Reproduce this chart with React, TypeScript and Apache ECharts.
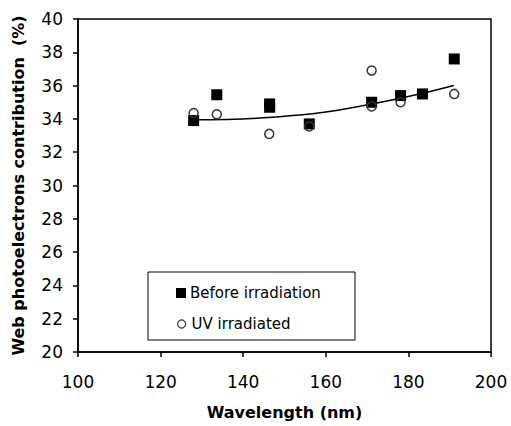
import React, { useEffect, useRef } from "react";
import * as echarts from "echarts";

const beforeX = [128, 133.6, 146.4, 146.4, 156, 171.1, 178.1, 183.4, 191.1];
const beforeY = [33.9, 35.45, 34.9, 34.7, 33.7, 35.0, 35.4, 35.5, 37.6];
const uvX = [128, 133.6, 146.3, 156, 171.1, 171.1, 178.1, 191.1];
const uvY = [34.35, 34.28, 33.1, 33.55, 36.9, 34.75, 35.0, 35.5];
const trendX = [128, 136, 144, 152, 160, 168, 176, 184, 191];
const trendY = [33.95, 33.97, 34.05, 34.2, 34.42, 34.75, 35.13, 35.57, 36.0];
const xTicks = [100, 120, 140, 160, 180, 200];
const yTicks = [20, 22, 24, 26, 28, 30, 32, 34, 36, 38, 40];

const FONT = "DejaVu Sans, Liberation Sans, Arial, sans-serif";

export default function App() {
  const ref = useRef<HTMLDivElement>(null);
  useEffect(() => {
    if (!ref.current) return;
    const chart = echarts.init(ref.current, undefined, { renderer: "svg" });
    const pair = (xs: number[], ys: number[]) => xs.map((x, i) => [x, ys[i]]);
    chart.setOption({
      animation: false,
      backgroundColor: "#fff",
      textStyle: { fontFamily: FONT },
      grid: {
        left: 78, top: 19, right: 20, bottom: 74,
        containLabel: false, outerBoundsMode: "none",
        show: true, borderColor: "#000", borderWidth: 1.5, backgroundColor: "transparent",
      },
      xAxis: {
        type: "value",
        min: xTicks[0],
        max: xTicks[xTicks.length - 1],
        interval: 20,
        name: "Wavelength (nm)",
        nameLocation: "middle",
        nameGap: 52,
        nameTextStyle: { fontFamily: FONT, fontSize: 16, fontWeight: "bold", color: "#000" },
        axisLine: { show: true, lineStyle: { color: "#000", width: 1.5 } },
        axisTick: { show: true, inside: false, length: 5, lineStyle: { color: "#000", width: 1.5 } },
        axisLabel: { color: "#000", fontSize: 17, fontFamily: FONT, margin: 21 },
        splitLine: { show: false },
      },
      yAxis: {
        type: "value",
        min: yTicks[0],
        max: yTicks[yTicks.length - 1],
        interval: 2,
        name: "Web photoelectrons contribution  (%)",
        nameLocation: "middle",
        nameGap: 52,
        nameTextStyle: { fontFamily: FONT, fontSize: 16, fontWeight: "bold", color: "#000" },
        axisLine: { show: true, lineStyle: { color: "#000", width: 1.5 } },
        axisTick: { show: true, inside: false, length: 5, lineStyle: { color: "#000", width: 1.5 } },
        axisLabel: { color: "#000", fontSize: 17, fontFamily: FONT, margin: 15 },
        splitLine: { show: false },
      },
      legend: [
        {
          left: 176,
          top: 285.5,
          padding: 0,
          itemWidth: 10,
          itemHeight: 10,
          itemGap: 4,
          textStyle: { fontFamily: FONT, fontSize: 15, color: "#000", padding: [0, 0, 0, -1] },
          data: [{ name: "Before irradiation", icon: "rect", itemStyle: { color: "#000", opacity: 1 } }],
        },
        {
          left: 177,
          top: 316.5,
          padding: 0,
          itemWidth: 8,
          itemHeight: 8,
          itemGap: 4,
          textStyle: { fontFamily: FONT, fontSize: 15, color: "#000", padding: [0, 0, 0, 1] },
          data: [{ name: "UV irradiated", icon: "circle", itemStyle: { color: "#fff", borderColor: "#333", borderWidth: 1.2, opacity: 1 } }],
        },
      ],
      graphic: [
        {
          type: "rect",
          shape: { x: 148, y: 272, width: 207, height: 68 },
          style: { fill: "#fff", stroke: "#000", lineWidth: 1 },
          z: -1,
          zlevel: 0,
        },
      ],
      series: [
        {
          name: "trend",
          type: "line",
          data: pair(trendX, trendY),
          smooth: true,
          showSymbol: false,
          symbol: "none",
          lineStyle: { color: "#000", width: 1.5 },
          silent: true,
          z: 1,
        },
        {
          name: "Before irradiation",
          type: "scatter",
          data: pair(beforeX, beforeY),
          symbol: "rect",
          symbolSize: 11,
          itemStyle: { color: "#000", opacity: 1 },
          z: 2,
        },
        {
          name: "UV irradiated",
          type: "scatter",
          data: pair(uvX, uvY),
          symbol: "circle",
          symbolSize: 9,
          itemStyle: { color: "transparent", borderColor: "#333", borderWidth: 1.5, opacity: 1 },
          z: 3,
        },
      ],
    });
    return () => chart.dispose();
  }, []);
  return (
    <div
      ref={ref}
      style={{ position: "absolute", left: 0, top: 0, width: 511, height: 426 }}
    />
  );
}
